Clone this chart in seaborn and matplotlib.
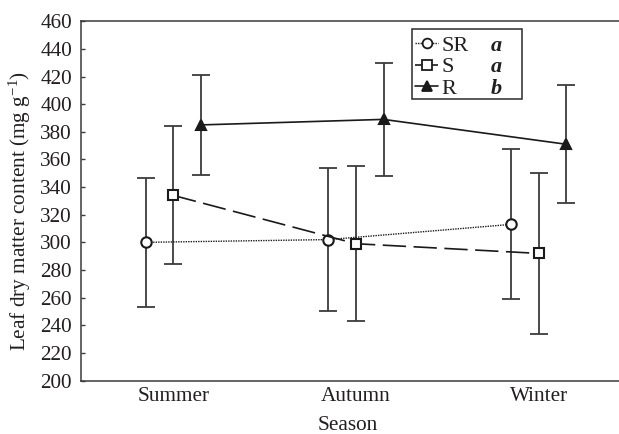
import matplotlib
matplotlib.use("Agg")
import matplotlib.pyplot as plt
from matplotlib.patches import Rectangle
from matplotlib.lines import Line2D
import seaborn as sns
import pandas as pd
import numpy as np

# ---- data ----
seasons = ["Summer", "Autumn", "Winter"]
groups = ["SR", "S", "R"]
group_letters = ["a", "a", "b"]
sr_values = [300, 302, 313]
sr_errors = [46.5, 52, 54.3]
s_values = [334, 299, 292]
s_errors = [50, 56, 58]
r_values = [385, 389, 371]
r_errors = [36.3, 41, 42.7]
y_ticks = list(range(200, 461, 20))

values = {"SR": sr_values, "S": s_values, "R": r_values}
errors = {"SR": sr_errors, "S": s_errors, "R": r_errors}
offsets = {"SR": -0.151, "S": 0.0, "R": 0.151}

rows = []
for g in groups:
    for i, season in enumerate(seasons):
        rows.append({"group": g, "season": season, "pos": i + offsets[g],
                     "value": values[g][i], "err": errors[g][i]})
df = pd.DataFrame(rows)

sns.set_theme(style="white")
plt.rcParams["font.family"] = ["Liberation Serif", "DejaVu Serif"]
plt.rcParams["mathtext.fontset"] = "custom"
plt.rcParams["mathtext.rm"] = "Liberation Serif"
plt.rcParams["mathtext.it"] = "Liberation Serif:italic"

FS = 15.3
LFS = 16
TXT = "#231f20"
LC = "#1a1a1a"
EC = "#3c3c3c"

fig = plt.figure(figsize=(6.19, 4.34), dpi=100)
ax = fig.add_axes([81 / 619, (434 - 380.5) / 434, 538 / 619, 359.2 / 434])

styles = {
    "SR": dict(marker="o", markerfacecolor="white", linestyle=(0, (1.0, 0.8)), lw=1.0),
    "S": dict(marker="s", markerfacecolor="white", linestyle=(0, (14, 4.5)), lw=1.2),
    "R": dict(marker="^", markerfacecolor=LC, linestyle="-", lw=1.2),
}

for g in groups:
    sub = df[df["group"] == g]
    ax.errorbar(sub["pos"], sub["value"], yerr=sub["err"], fmt="none",
                ecolor=EC, elinewidth=1.3, capsize=6.5, capthick=1.3, zorder=2)

for g in groups:
    sub = df[df["group"] == g]
    st = styles[g]
    sns.lineplot(data=sub, x="pos", y="value", ax=ax, color=LC,
                 marker=st["marker"], markerfacecolor=st["markerfacecolor"],
                 markeredgecolor=LC, markeredgewidth=1.5, markersize=7.5,
                 linestyle=st["linestyle"], linewidth=st["lw"],
                 estimator=None, errorbar=None, sort=False, zorder=3)

ax.set_xlim(-0.505, 2.44)
ax.set_ylim(200, 460)
ax.set_yticks(y_ticks)
ax.set_yticklabels([str(t) for t in y_ticks])
ax.set_xticks(range(len(seasons)))
ax.set_xticklabels(seasons)

ax.tick_params(axis="y", direction="in", length=3, width=1, color=EC,
               pad=6.5, labelsize=FS, labelcolor=TXT, left=True)
ax.tick_params(axis="x", length=0, pad=4.7, labelsize=FS, labelcolor=TXT)

for side in ["left", "bottom", "top"]:
    ax.spines[side].set_visible(True)
    ax.spines[side].set_color("#3a3a3a")
    ax.spines[side].set_linewidth(1.1)
ax.spines["right"].set_visible(False)

ax.set_xlabel("Season", fontsize=FS, color=TXT)
ax.set_ylabel("Leaf dry matter content (mg g$^{-1}$)", fontsize=FS, color=TXT)
ax.xaxis.label.set_va("center")
ax.yaxis.label.set_va("center")
ax.xaxis.set_label_coords(0.495, -0.126)
ax.yaxis.set_label_coords(-0.1134, 0.472)

# legend
handles = []
for g in groups:
    st = styles[g]
    handles.append(Line2D([], [], color=LC, marker=st["marker"],
                          markerfacecolor=st["markerfacecolor"], markeredgecolor=LC,
                          markeredgewidth=1.3, markersize=7, linestyle=st["linestyle"],
                          linewidth=st["lw"]))
blank = [Line2D([], [], color="none", marker=None, linestyle="none") for _ in groups]
leg = ax.legend(handles + blank, groups + group_letters, ncol=2,
                loc="upper left", bbox_to_anchor=((415 - 81) / 538, (380.5 - 35.5) / 359.2),
                frameon=False, fontsize=LFS, handlelength=1.05, handletextpad=0.15,
                columnspacing=-0.2, labelspacing=0.04, borderpad=0, borderaxespad=0)
for t in leg.get_texts():
    t.set_color(TXT)
for t in leg.get_texts()[3:]:
    t.set_fontweight("bold")
    t.set_fontstyle("italic")

x0 = (412.3 - 81) / 538
x1 = (522.3 - 81) / 538
y0 = (380.5 - 99.3) / 359.2
y1 = (380.5 - 29.3) / 359.2
ax.add_patch(Rectangle((x0, y0), x1 - x0, y1 - y0, transform=ax.transAxes,
                       fill=False, edgecolor="#2a2a2a", linewidth=1.1, zorder=5))

fig.savefig("out.png", dpi=100)
